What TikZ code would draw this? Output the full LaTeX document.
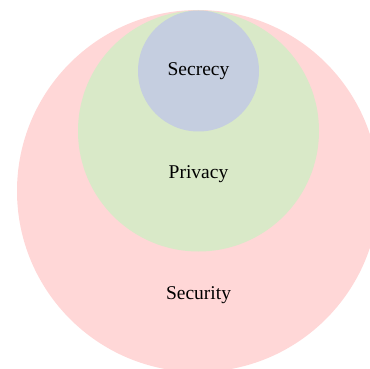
\documentclass[tikz,border=0pt]{standalone}
\usepackage{fontspec}
\setmainfont{Liberation Serif}
\definecolor{secpink}{RGB}{255,215,215}
\definecolor{privgreen}{RGB}{217,233,200}
\definecolor{secrblue}{RGB}{197,206,224}
\begin{document}
\begin{tikzpicture}[x=1pt,y=-1pt,
  ring/.style={circle,inner sep=0pt,draw=none},
  lbl/.style={font=\fontsize{19.5}{22}\selectfont,text=black}]
\useasboundingbox (0,0) rectangle (370,369);
\clip (0,0) rectangle (370,369);
\node[ring,fill=secpink,minimum size=362pt] (security) at (198,191) {};
\node[ring,fill=privgreen,minimum size=241pt] (privacy) at (198.5,131) {};
\node[ring,fill=secrblue,minimum size=121pt] (secrecy) at (198.5,71) {};
\node[lbl] (tsecrecy) at (198.5,71.5) {Secrecy};
\node[lbl] (tprivacy) at (198.5,174.5) {Privacy};
\node[lbl] (tsecurity) at (198.5,295.5) {Security};
\end{tikzpicture}
\end{document}
